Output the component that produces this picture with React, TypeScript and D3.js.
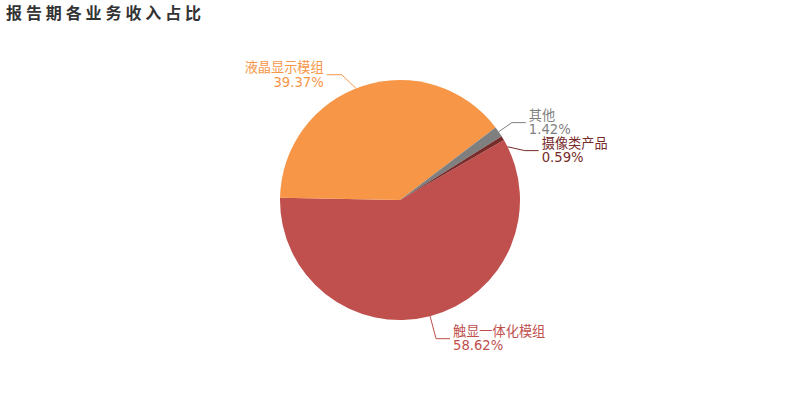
import React from 'react';
import * as d3 from 'd3';

const categories = ['触显一体化模组', '液晶显示模组', '其他', '摄像类产品'];
const shares = [58.62, 39.37, 1.42, 0.59];
const colors = ['#c0504d', '#f79646', '#7f7f7f', '#772c2a'];
const title = '报告期各业务收入占比';

const width = 800;
const height = 400;
const cx = 400;
const cy = 200;
const radius = 120;
const font = '"DejaVu Sans", "Noto Sans CJK SC", sans-serif';
// small label-knee nudges (layout only), like the original's overlap shifting
const knee = [[2, 7], [-16, 4], [0, 0], [0, 0]];

type Slice = d3.PieArcDatum<number> & { i: number };

const App: React.FC = () => {
  const pie = d3.pie<number>().sort(null).startAngle(Math.PI / 3).endAngle(Math.PI / 3 + 2 * Math.PI);
  const arcs = pie(shares).map((d, i) => ({ ...d, i })) as Slice[];
  const arc = d3.arc<Slice>().innerRadius(0).outerRadius(radius);
  const r2 = radius + 16;

  // leader line layout, push labels apart on each side
  const labels = arcs.map(d => {
    const mid = (d.startAngle + d.endAngle) / 2;
    const right = Math.sin(mid) > 0;
    const p2: [number, number] = [Math.sin(mid) * r2 + knee[d.i][0], -Math.cos(mid) * r2 + knee[d.i][1]];
    return { d, mid, right, p1: [0, 0] as [number, number], p2 };
  });
  [true, false].forEach(side => {
    const group = labels.filter(l => l.right === side).sort((a, b) => a.p2[1] - b.p2[1]);
    for (let k = 1; k < group.length; k++) {
      if (group[k].p2[1] - group[k - 1].p2[1] < 28) {
        const y = group[k - 1].p2[1] + 28;
        const x = Math.sqrt(Math.max(0, r2 * r2 - y * y)) - 2;
        group[k].p2 = [side ? x : -x, y];
      }
    }
  });
  // first segment runs from the knee back to the slice edge
  labels.forEach(l => {
    const a = Math.atan2(l.p2[0], -l.p2[1]);
    let delta = a - l.mid;
    delta = Math.atan2(Math.sin(delta), Math.cos(delta));
    const m = l.mid + delta / 2;
    l.p1 = [Math.sin(m) * radius, -Math.cos(m) * radius];
  });

  return (
    <svg width={width} height={height} style={{ position: 'absolute', left: 0, top: 0, background: '#fff' }}>
      <text x={6} y={19} fontFamily={font} fontSize={16} fontWeight="bold" fill="#333" letterSpacing={3.9}>
        {title}
      </text>
      <g transform={`translate(${cx},${cy})`}>
        {arcs.map(d => (
          <path key={d.i} d={arc(d) || ''} fill={colors[d.i]} />
        ))}
        {labels.map(({ d, right, p1, p2 }) => {
          const x3 = p2[0] + (right ? 14 : -15);
          const tx = x3 + (right ? 3 : -3);
          const anchor = right ? 'start' : 'end';
          return (
            <g key={d.i}>
              <polyline
                points={`${p1[0]},${p1[1]} ${p2[0]},${p2[1]} ${x3},${p2[1]}`}
                fill="none"
                stroke={colors[d.i]}
                strokeWidth={1}
              />
              <text x={tx} y={p2[1] - 7.2} dy="0.35em" textAnchor={anchor} fontFamily={font} fontSize={13.2} fill={colors[d.i]}>
                {categories[d.i]}
              </text>
              <text x={tx} y={p2[1] + 7.2} dy="0.35em" textAnchor={anchor} fontFamily={font} fontSize={13.2} fill={colors[d.i]}>
                {d3.format('.2f')(shares[d.i])}%
              </text>
            </g>
          );
        })}
      </g>
    </svg>
  );
};

export default App;
